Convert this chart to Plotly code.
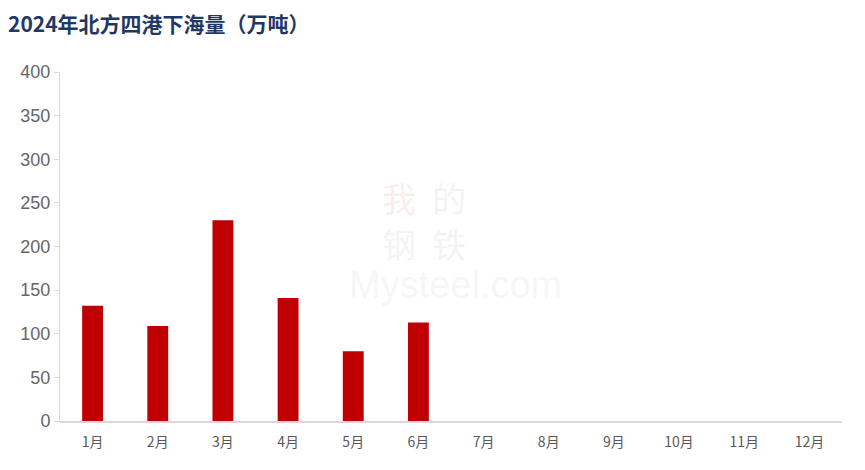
import plotly.graph_objects as go

months = ["1月", "2月", "3月", "4月", "5月", "6月", "7月", "8月", "9月", "10月", "11月", "12月"]
values = [132, 109, 230, 141, 80, 113, None, None, None, None, None, None]
y_ticks = [0, 50, 100, 150, 200, 250, 300, 350, 400]

fig = go.Figure()
fig.add_trace(go.Bar(x=months, y=values, marker_color="#C00000", width=0.32,
                     marker_line_width=0))

fig.update_layout(
    width=865, height=470,
    margin=dict(l=49, r=31, t=64, b=57),
    paper_bgcolor="white", plot_bgcolor="white",
    showlegend=False,
    title=dict(text="<b>2024年北方四港下海量（万吨）</b>", x=0.0, xanchor="left",
               y=0.965, yanchor="middle",
               font=dict(family="Noto Sans CJK SC", size=21, color="#1F3864")),
    font=dict(family="Liberation Sans, Arial", color="#595959"),
)
fig.update_xaxes(type="category", showline=True, linecolor="#D9D9D9", linewidth=1.5,
                 ticks="", ticklabelstandoff=7,
                 tickfont=dict(size=14, color="#595959", family="Noto Sans CJK SC"),
                 showgrid=False)
fig.update_yaxes(range=[0, 400], tickvals=y_ticks, showline=True, linecolor="#D9D9D9",
                 linewidth=1, ticks="outside", ticklen=5, tickcolor="#D9D9D9",
                 showgrid=False, zeroline=False,
                 tickfont=dict(size=18, color="#666666", family="Liberation Sans, Arial"))

# faint watermark
wm = [("我", 0.433, 0.640, "rgba(230,140,140,0.16)"), ("的", 0.497, 0.640, "rgba(150,160,190,0.14)"),
      ("钢", 0.433, 0.508, "rgba(150,160,190,0.14)"), ("铁", 0.497, 0.508, "rgba(150,160,190,0.14)")]
for ch, xx, yy, col in wm:
    fig.add_annotation(text=ch, x=xx, y=yy, xref="paper", yref="paper", showarrow=False,
                       yanchor="middle", xanchor="center",
                       font=dict(size=34, color=col, family="Noto Sans CJK SC"))
fig.add_annotation(text="Mysteel.com", x=0.506, y=0.39, xref="paper", yref="paper",
                   showarrow=False, yanchor="middle",
                   font=dict(size=38, color="rgba(200,200,200,0.16)",
                             family="Liberation Sans"))

fig.write_html("out.html")
